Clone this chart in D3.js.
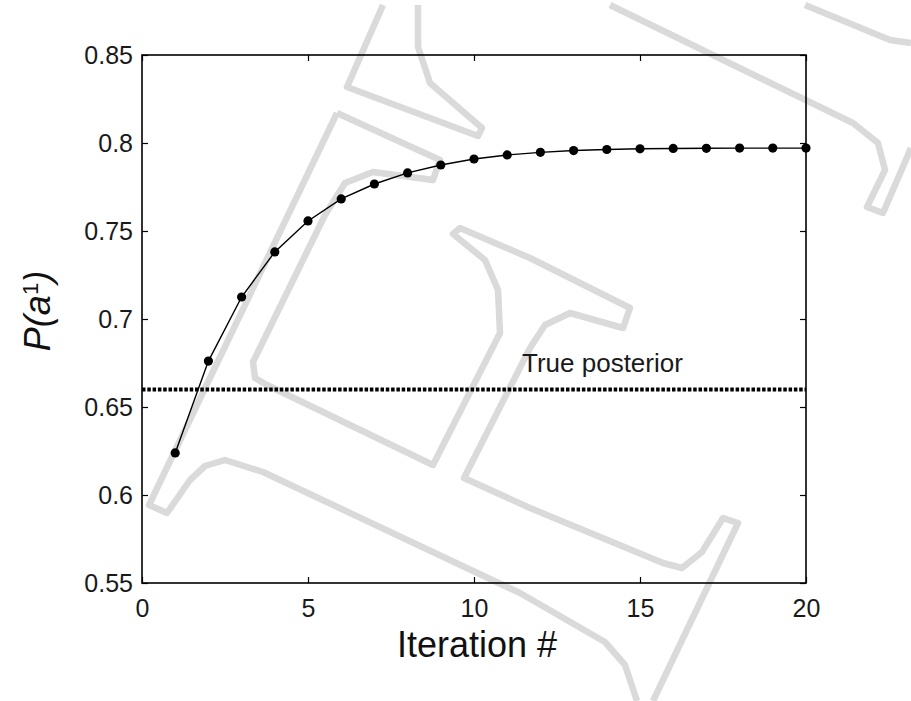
<!DOCTYPE html>
<html>
<head>
<meta charset="utf-8">
<script src="https://cdn.jsdelivr.net/npm/d3@7"></script>
<style>
  body { margin: 0; background: #fff; }
  svg { display: block; font-family: Arial, "Liberation Sans", sans-serif; }
</style>
</head>
<body>
<div id="my_dataviz"></div>
<script>
// data
var iterations = [1, 2, 3, 4, 5, 6, 7, 8, 9, 10, 11, 12, 13, 14, 15, 16, 17, 18, 19, 20]
var probs = [0.6239, 0.6761, 0.7125, 0.7381, 0.7557, 0.7682, 0.7767, 0.7830, 0.7875, 0.7909,
  0.7932, 0.7947, 0.7957, 0.7963, 0.7967, 0.7969, 0.7970, 0.7971, 0.7971, 0.7971]
var truePosterior = 0.66
var xTicks = [0, 5, 10, 15, 20]
var yTicks = [0.55, 0.6, 0.65, 0.7, 0.75, 0.8, 0.85]

// faint watermark strokes in the background (decoration only)
var watermark = [
  [[383, 5], [347, 87], [478, 136], [482, 128], [430, 83], [418, 47], [418, 5]],
  [[337, 113], [149, 505], [167, 513], [190, 480], [205, 466], [225, 460], [263, 472], [520, 593], [605, 642], [625, 665], [637, 701]],
  [[337, 113], [440, 160], [433, 180], [373, 172], [345, 183], [325, 215], [253, 362], [255, 378], [267, 385], [433, 465],
    [500, 333], [498, 290], [485, 260], [453, 234], [460, 228], [530, 258], [630, 308], [623, 328], [570, 313], [545, 325],
    [530, 348], [464, 478], [530, 508], [663, 563], [682, 568], [702, 552], [723, 518], [738, 523], [653, 701]],
  [[610, 5], [853, 123], [878, 143], [885, 170], [867, 207], [883, 213], [911, 148]],
  [[805, 5], [890, 40], [911, 43]]
]

// set the dimensions and margins of the graph
var margin = { top: 55, right: 105, bottom: 118, left: 142 },
  width = 911 - margin.left - margin.right,
  height = 701 - margin.top - margin.bottom;

var root = d3.select("#my_dataviz")
  .append("svg")
  .attr("width", 911)
  .attr("height", 701)

root.append("g")
  .selectAll("path")
  .data(watermark)
  .enter().append("path")
  .attr("d", d3.line())
  .attr("fill", "none")
  .attr("stroke", "#dadada")
  .attr("stroke-width", 6.5)
  .attr("stroke-linejoin", "round")

var svg = root.append("g")
  .attr("transform", "translate(" + margin.left + "," + margin.top + ")");

// scales
var x = d3.scaleLinear().domain([0, 20]).range([0, width])
var y = d3.scaleLinear().domain([0.55, 0.85]).range([height, 0])

// axes, ticks pointing inwards on all four sides like matlab
function styleAxis(g) {
  g.select(".domain").remove()
  g.selectAll(".tick line").attr("stroke", "#000").attr("stroke-width", 1.2)
  g.selectAll(".tick text").attr("fill", "#1a1a1a").style("font-size", "25px")
}
svg.append("g")
  .attr("transform", "translate(0," + height + ")")
  .call(d3.axisBottom(x).tickValues(xTicks).tickSizeInner(-6).tickSizeOuter(0).tickPadding(16).tickFormat(d3.format("d")))
  .call(styleAxis)
svg.append("g")
  .call(d3.axisTop(x).tickValues(xTicks).tickSizeInner(-6).tickSizeOuter(0).tickFormat(""))
  .call(styleAxis)
svg.append("g")
  .call(d3.axisLeft(y).tickValues(yTicks).tickSizeInner(-6).tickSizeOuter(0).tickPadding(9).tickFormat(function (d) { return d3.format("")(+d.toFixed(2)) }))
  .call(styleAxis)
svg.append("g")
  .attr("transform", "translate(" + width + ",0)")
  .call(d3.axisRight(y).tickValues(yTicks).tickSizeInner(-6).tickSizeOuter(0).tickFormat(""))
  .call(styleAxis)

// box
svg.append("rect")
  .attr("width", width)
  .attr("height", height)
  .attr("fill", "none")
  .attr("stroke", "#000")
  .attr("stroke-width", 1.6)

// true posterior dotted line
svg.append("line")
  .attr("x1", x(0))
  .attr("x2", x(20))
  .attr("y1", y(truePosterior))
  .attr("y2", y(truePosterior))
  .attr("stroke", "#000")
  .attr("stroke-width", 4)
  .attr("stroke-dasharray", "3.5,1.8")

svg.append("text")
  .attr("x", 380)
  .attr("y", y(truePosterior) - 17)
  .style("font-size", "26px")
  .attr("fill", "#1a1a1a")
  .text("True posterior")

// the iterations curve
var pts = iterations.map(function (d, i) { return [d, probs[i]] })
svg.append("path")
  .datum(pts)
  .attr("fill", "none")
  .attr("stroke", "#000")
  .attr("stroke-width", 1.4)
  .attr("d", d3.line().x(function (d) { return x(d[0]) }).y(function (d) { return y(d[1]) }))

svg.selectAll("circle")
  .data(pts)
  .enter().append("circle")
  .attr("cx", function (d) { return x(d[0]) })
  .attr("cy", function (d) { return y(d[1]) })
  .attr("r", 4.6)
  .attr("fill", "#000")

// axis labels
svg.append("text")
  .attr("x", width / 2 + 3)
  .attr("y", height + 74)
  .attr("text-anchor", "middle")
  .style("font-size", "36px")
  .attr("fill", "#111")
  .text("Iteration #")

var ylab = svg.append("text")
  .attr("transform", "translate(-92," + (height / 2 - 8) + ") rotate(-90)")
  .attr("text-anchor", "middle")
  .style("font-size", "36px")
  .style("font-style", "italic")
  .attr("fill", "#111")
ylab.append("tspan").text("P(a")
ylab.append("tspan").attr("dy", -12).style("font-size", "22px").style("font-style", "normal").text("1")
ylab.append("tspan").attr("dy", 12).text(")")
</script>
</body>
</html>
